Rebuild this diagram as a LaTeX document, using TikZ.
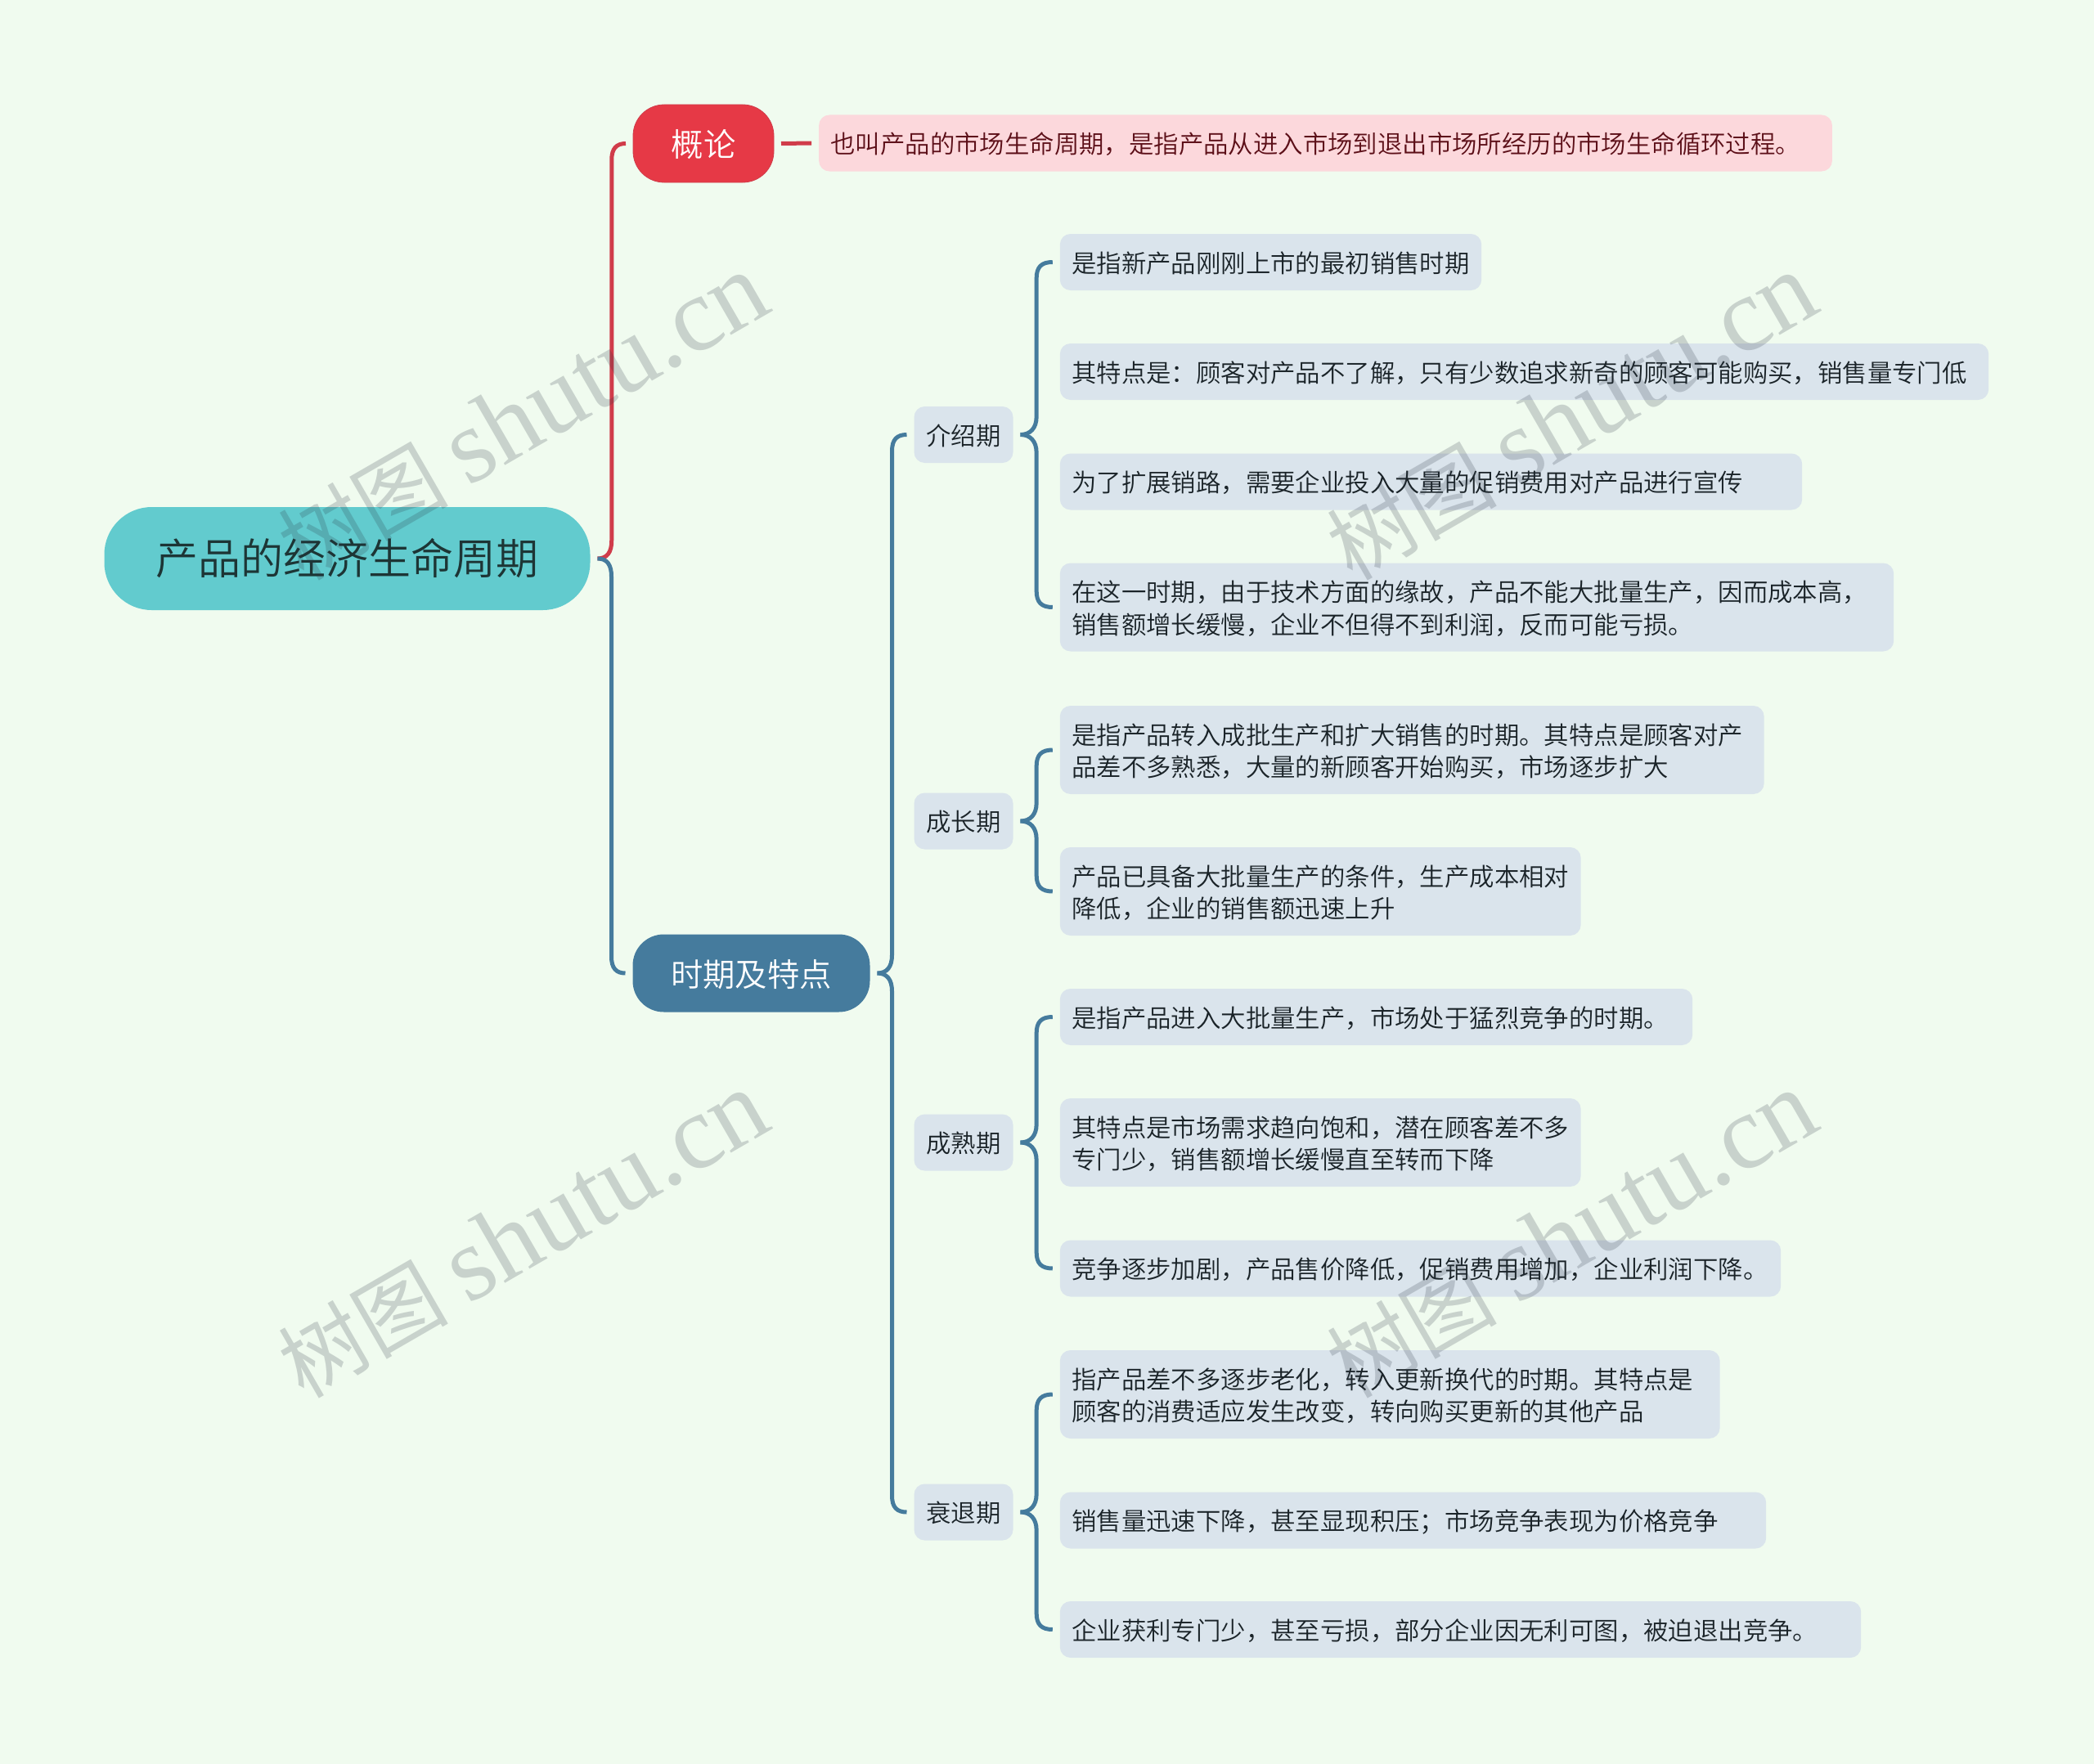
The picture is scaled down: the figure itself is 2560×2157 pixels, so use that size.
\documentclass[tikz,border=0pt]{standalone}
\usepackage{fontspec}
\setmainfont{Noto Sans CJK SC DemiLight}
\newfontfamily\wmcjk{Noto Sans CJK SC}
\newfontfamily\wmlatin{Liberation Serif}
\usetikzlibrary{calc}
\definecolor{bgc}{HTML}{F0FBEF}
\definecolor{rootc}{HTML}{62CBCE}
\definecolor{redc}{HTML}{E63946}
\definecolor{redl}{HTML}{D03C4A}
\definecolor{bluec}{HTML}{457B9D}
\definecolor{leafc}{HTML}{DAE4EC}
\definecolor{pinkc}{HTML}{FCD8DC}
\definecolor{inkc}{HTML}{1A2328}
\definecolor{redink}{HTML}{5C0F18}
\definecolor{rootink}{HTML}{1D3535}
\definecolor{wmc}{HTML}{283240}
\tikzset{
  box/.style={anchor=center,outer sep=4.5pt,inner sep=0pt,align=center,execute at begin node={\rule[-0.13em]{0pt}{1.09em}}},
  rootbox/.style={anchor=center,outer sep=4.5pt,inner sep=0pt,fill=rootc,text=rootink,rounded corners=29pt,minimum width=297pt,minimum height=63pt,font=\fontsize{26}{32}\selectfont},
  mainbox/.style={box,text=white,rounded corners=19pt,text width=#1,minimum height=47.5pt,font=\fontsize{19.7}{25}\selectfont},
  subbox/.style={box,fill=leafc,text=inkc,rounded corners=6.5pt,text width=60.5pt,minimum height=34.5pt,font=\fontsize{15.2}{19.6}\selectfont},
  leafbox/.style={box,align=left,fill=leafc,text=inkc,rounded corners=6.5pt,inner xsep=7.2pt,text width=#1,minimum height=34.5pt,font=\fontsize{15.2}{19.6}\selectfont},
  twoline/.style={minimum height=54pt},
  link/.style={line width=2.5pt},
  curved/.style={link,to path={let \p1=(\tikztostart),\p2=(\tikztotarget),\n1={0.5*(\x1+\x2)},\n2={\y2>\y1 ? 1 : -1} in
    (\p1) .. controls ({\x1+6pt},\y1) and (\n1,{\y1+\n2*4pt}) .. (\n1,{\y1+\n2*11pt})
    -- (\n1,{\y2-\n2*10pt}) .. controls (\n1,{\y2-\n2*3pt}) and ({\n1+3pt},\y2) .. (\p2)}},
  wm/.style={rotate=30,text=wmc,opacity=0.2,inner sep=0pt}
}
\newcommand{\wmtext}{{\wmcjk\fontsize{52}{60}\selectfont 树图}\hspace{12pt}{\wmlatin\fontsize{64.5}{60}\selectfont shutu.cn}}
\begin{document}
\begin{tikzpicture}[x=0.5pt,y=-0.5pt]
\fill[bgc,use as bounding box] (0,0) rectangle (2560,2157);
% nodes
\node[rootbox] (root) at (424.5,683) {产品的经济生命周期};
\node[mainbox=86pt,fill=redc,draw=redl,line width=0.4pt] (gailun) at (860,175.5) {概论};
\node[mainbox=145pt,fill=bluec] (shiqi) at (918.5,1190) {时期及特点};
\node[leafbox=605pt,fill=pinkc,text=redink] (gl1) at (1620.5,175) {也叫产品的市场生命周期，是指产品从进入市场到退出市场所经历的市场生命循环过程。};
\node[subbox] (js) at (1178,531.5) {介绍期};
\node[subbox] (cz) at (1178,1004) {成长期};
\node[subbox] (cs) at (1178,1397) {成熟期};
\node[subbox] (st) at (1178,1849) {衰退期};
\node[leafbox=243.3pt] (a1) at (1553.5,320.5) {是指新产品刚刚上市的最初销售时期};
\node[leafbox=553.3pt] (a2) at (1863.5,454.5) {其特点是：顾客对产品不了解，只有少数追求新奇的顾客可能购买，销售量专门低};
\node[leafbox=439.3pt] (a3) at (1749.5,589) {为了扩展销路，需要企业投入大量的促销费用对产品进行宣传};
\node[leafbox=495.3pt,twoline] (a4) at (1805.5,742.5) {在这一时期，由于技术方面的缘故，产品不能大批量生产，因而成本高，\\销售额增长缓慢，企业不但得不到利润，反而可能亏损。};
\node[leafbox=416pt,twoline] (b1) at (1726.2,917) {是指产品转入成批生产和扩大销售的时期。其特点是顾客对产\\品差不多熟悉，大量的新顾客开始购买，市场逐步扩大};
\node[leafbox=304pt,twoline] (b2) at (1614.2,1090) {产品已具备大批量生产的条件，生产成本相对\\降低，企业的销售额迅速上升};
\node[leafbox=372.3pt] (c1) at (1682.5,1243.5) {是指产品进入大批量生产，市场处于猛烈竞争的时期。};
\node[leafbox=304pt,twoline] (c2) at (1614.2,1397) {其特点是市场需求趋向饱和，潜在顾客差不多\\专门少，销售额增长缓慢直至转而下降};
\node[leafbox=426.3pt] (c3) at (1736.5,1551) {竞争逐步加剧，产品售价降低，促销费用增加，企业利润下降。};
\node[leafbox=389pt,twoline] (d1) at (1699.2,1705) {指产品差不多逐步老化，转入更新换代的时期。其特点是\\顾客的消费适应发生改变，转向购买更新的其他产品};
\node[leafbox=417.3pt] (d2) at (1727.5,1859) {销售量迅速下降，甚至显现积压；市场竞争表现为价格竞争};
\node[leafbox=475.3pt] (d3) at (1785.5,1992.5) {企业获利专门少，甚至亏损，部分企业因无利可图，被迫退出竞争。};
% connectors
\draw[curved,redl] (root.east) to (gailun.west);
\draw[link,redl] (gailun.east) -- (gl1.west);
\draw[curved,bluec] (root.east) to (shiqi.west);
\foreach \t in {js,st} \draw[curved,bluec] (shiqi.east) to (\t.west);
\foreach \t in {a1,a4} \draw[curved,bluec] (js.east) to (\t.west);
\foreach \t in {b1,b2} \draw[curved,bluec] (cz.east) to (\t.west);
\foreach \t in {c1,c3} \draw[curved,bluec] (cs.east) to (\t.west);
\foreach \t in {d1,d3} \draw[curved,bluec] (st.east) to (\t.west);
% watermarks
\node[wm] (w1) at (639,510) {\wmtext};
\node[wm] (w2) at (1921,510) {\wmtext};
\node[wm] (w3) at (639,1510) {\wmtext};
\node[wm] (w4) at (1921,1510) {\wmtext};
\end{tikzpicture}
\end{document}
